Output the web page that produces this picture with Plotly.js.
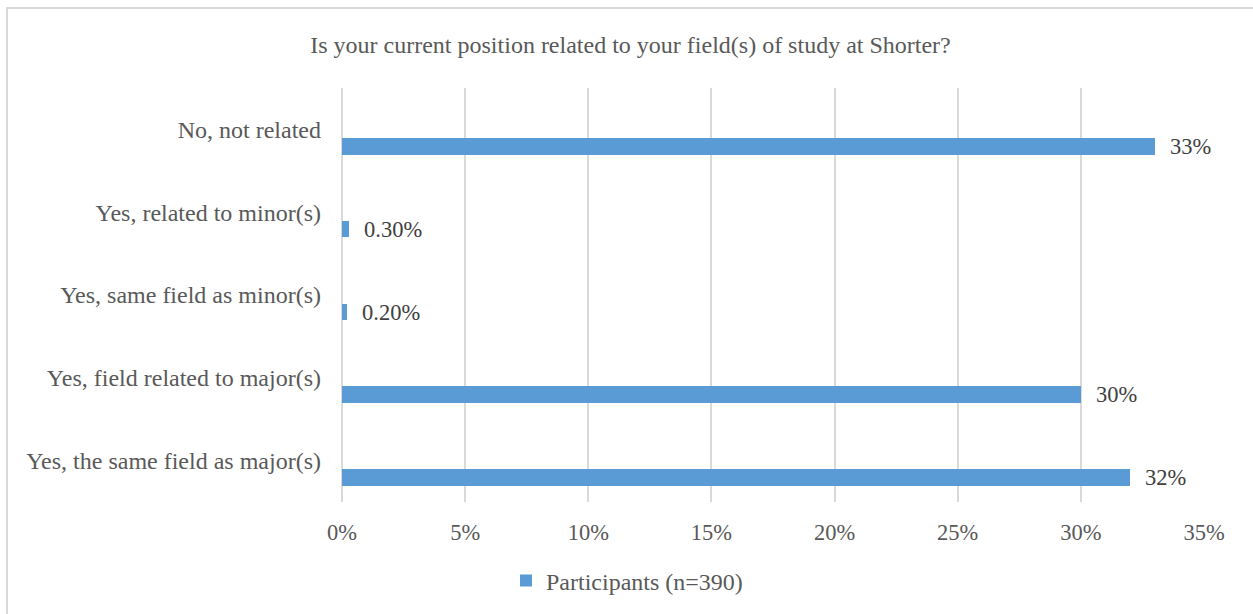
<!DOCTYPE html>
<html>
<head>
<meta charset="utf-8">
<script src="https://cdn.plot.ly/plotly-3.0.1.min.js"></script>
<style>
html,body{margin:0;padding:0;background:#fff;}
#wrap{position:relative;width:1253px;height:614px;}
#chart{width:1253px;height:614px;}
#frame{position:absolute;left:6px;top:7px;width:1260px;height:620px;border-left:2px solid #d9d9d9;border-top:2px solid #d9d9d9;pointer-events:none;box-sizing:border-box;}
</style>
</head>
<body>
<div id="wrap"><div id="chart"></div><div id="frame"></div></div>
<script>
// Data (bottom to top order, as drawn)
const categories = [
  "Yes, the same field as major(s)",
  "Yes, field related to major(s)",
  "Yes, same field as minor(s)",
  "Yes, related to minor(s)",
  "No, not related"
];
const values = [32, 30, 0.2, 0.3, 33];
const valueLabels = ["32%", "30%", "0.20%", "0.30%", "33%"];
const seriesName = "Participants (n=390)";
const chartTitle = "Is your current position related to your field(s) of study at Shorter?";
const xTickVals = [0, 5, 10, 15, 20, 25, 30, 35];
const xTickText = ["0%", "5%", "10%", "15%", "20%", "25%", "30%", "35%"];

const FONT = '"Liberation Serif", "Times New Roman", Times, serif';

const trace = {
  type: "bar",
  orientation: "h",
  x: values,
  y: categories,
  name: seriesName,
  marker: {color: "#5b9bd5"},
  width: 0.2,
  offset: -0.305,
  hoverinfo: "x+y"
};

const annotations = categories.map((c, i) => ({
  x: values[i],
  y: c,
  xref: "x",
  yref: "y",
  text: valueLabels[i],
  showarrow: false,
  xanchor: "left",
  yanchor: "middle",
  xshift: 13,
  yshift: -17,
  font: {family: FONT, size: 22.5, color: "#404040"}
}));

const layout = {
  width: 1253,
  height: 614,
  margin: {l: 342, r: 49, t: 88, b: 112},
  paper_bgcolor: "#ffffff",
  plot_bgcolor: "#ffffff",
  font: {family: FONT, color: "#595959"},
  title: {
    text: chartTitle,
    font: {family: FONT, size: 24, color: "#595959"},
    x: 0.5 + 4/1253, xanchor: "center",
    y: 1 - 45/614, yanchor: "middle",
    yref: "container"
  },
  xaxis: {
    range: [0, 35],
    tickmode: "array",
    tickvals: xTickVals,
    ticktext: xTickText,
    showgrid: true,
    gridcolor: "#d9d9d9",
    gridwidth: 2,
    zeroline: true,
    zerolinecolor: "#d9d9d9",
    zerolinewidth: 2,
    showline: false,
    ticks: "",
    ticklabelstandoff: 14,
    tickfont: {family: FONT, size: 22.5, color: "#595959"},
    fixedrange: true
  },
  yaxis: {
    type: "category",
    categoryorder: "array",
    categoryarray: categories,
    showgrid: false,
    zeroline: false,
    showline: false,
    ticks: "",
    ticklabelstandoff: 20,
    tickfont: {family: FONT, size: 24, color: "#595959"},
    fixedrange: true
  },
  showlegend: true,
  legend: {
    orientation: "h",
    x: (506 - 342) / 862,
    xanchor: "left",
    y: 33/614,
    yref: "container",
    yanchor: "middle",
    font: {family: FONT, size: 24, color: "#595959"},
    itemwidth: 30
  },
  annotations: annotations,
  bargap: 0
};

Plotly.newPlot("chart", [trace], layout, {displayModeBar: false, staticPlot: true});
</script>
</body>
</html>
